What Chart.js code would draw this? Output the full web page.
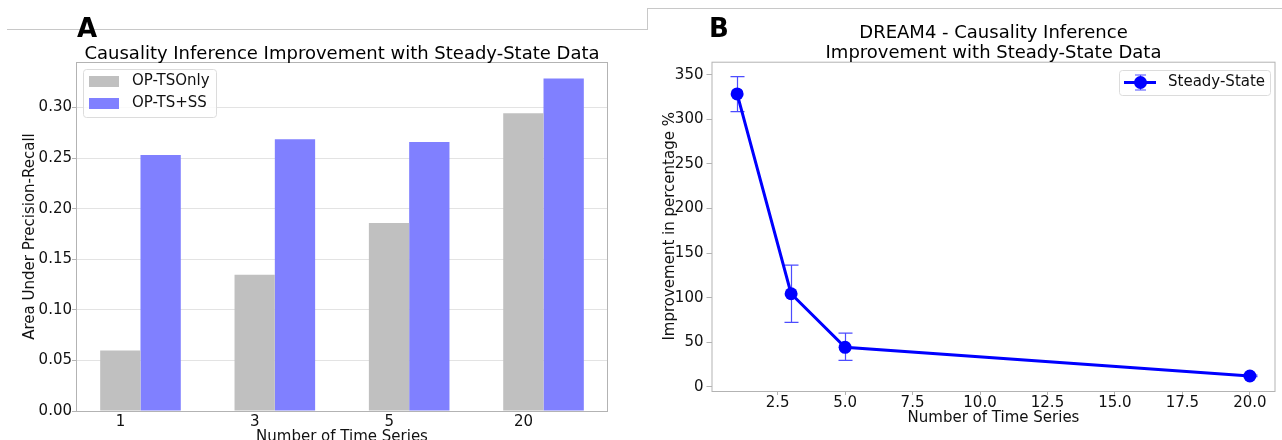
<!DOCTYPE html>
<html>
<head>
<meta charset="utf-8">
<script src="https://cdn.jsdelivr.net/npm/chart.js@4/dist/chart.umd.min.js"></script>
<style>
  html, body { margin: 0; padding: 0; background: #fff; overflow: hidden; }
  #wrap { position: relative; width: 1282px; height: 440px; overflow: hidden; }
  canvas { position: absolute; top: 0; }
  #chartA { left: 0; }
  #chartB { left: 648px; }
  .sep { position: absolute; background: #c8c8c8; }
  .tag { position: absolute; font-family: "DejaVu Sans"; font-weight: bold; font-size: 26px; line-height: 26px; color: #000; }
</style>
</head>
<body>
<div id="wrap">
  <div class="sep" style="left:7px;top:29px;width:641px;height:1px"></div>
  <div class="sep" style="left:647px;top:8px;width:1px;height:22px"></div>
  <div class="sep" style="left:647px;top:8px;width:635px;height:1px"></div>
  <canvas id="chartA" width="648" height="449"></canvas>
  <canvas id="chartB" width="634" height="440"></canvas>
  <div class="tag" style="left:77px;top:15px">A</div>
  <div class="tag" style="left:709px;top:15px">B</div>
</div>
<script>
  // Panel A: AUPR bars
  const categories = ['1', '3', '5', '20'];
  const tsOnly = [0.0598, 0.1347, 0.1859, 0.2943];
  const tsPlusSS = [0.253, 0.2687, 0.2658, 0.3288];
  const titleA = 'Causality Inference Improvement with Steady-State Data';

  // Panel B: improvement %
  const nSeries = [1, 3, 5, 20];
  const improvement = [328.4, 104.5, 44.4, 12.3];
  const errLow = [308.6, 72.4, 29.9, 11.5];
  const errHigh = [347.8, 136.6, 60.4, 13.2];
  const titleB = ['DREAM4 - Causality Inference', 'Improvement with Steady-State Data'];

  const FONT = '"DejaVu Sans"';
  const TXT = '#111';
  const FRAME = '#b3b3b3';

  function drawFrame(chart) {
    const { ctx, chartArea: a } = chart;
    ctx.save();
    ctx.strokeStyle = FRAME;
    ctx.lineWidth = 1;
    ctx.strokeRect(a.left + 0.5, a.top + 0.5, a.right - a.left - 1, a.bottom - a.top);
    ctx.restore();
  }

  function legendBox(ctx, x, y, w, h) {
    ctx.save();
    ctx.fillStyle = 'rgba(255,255,255,0.8)';
    ctx.strokeStyle = '#dcdcdc';
    ctx.lineWidth = 1;
    ctx.beginPath();
    ctx.roundRect(x + 0.5, y + 0.5, w, h, 3);
    ctx.fill();
    ctx.stroke();
    ctx.restore();
  }

  const panelA = {
    id: 'panelA',
    afterDraw(chart) {
      const { ctx, chartArea: a } = chart;
      drawFrame(chart);
      ctx.save();
      ctx.fillStyle = '#000';
      ctx.font = '18px ' + FONT;
      ctx.textAlign = 'center';
      ctx.textBaseline = 'middle';
      ctx.fillText(titleA, (a.left + a.right) / 2, 54);
      // legend
      legendBox(ctx, 83, 69, 133, 48);
      ctx.font = '15px ' + FONT;
      ctx.textAlign = 'left';
      chart.data.datasets.forEach((ds, i) => {
        const cy = 81.5 + i * 22;
        ctx.fillStyle = ds.backgroundColor;
        ctx.fillRect(89, cy - 5.5, 30, 11);
        ctx.fillStyle = TXT;
        ctx.fillText(ds.label, 132, cy);
      });
      ctx.restore();
    }
  };

  new Chart(document.getElementById('chartA'), {
    type: 'bar',
    data: {
      datasets: [
        { label: 'OP-TSOnly', data: tsOnly.map((v, i) => ({ x: i, y: v })), backgroundColor: '#c0c0c0', categoryPercentage: 0.6, barPercentage: 1.0 },
        { label: 'OP-TS+SS', data: tsPlusSS.map((v, i) => ({ x: i, y: v })), backgroundColor: '#8080ff', categoryPercentage: 0.6, barPercentage: 1.0 }
      ]
    },
    options: {
      responsive: false,
      devicePixelRatio: 1,
      animation: false,
      layout: { padding: { left: 0, right: 40, top: 62, bottom: 0 } },
      plugins: { legend: { display: false }, tooltip: { enabled: false } },
      scales: {
        x: {
          type: 'linear',
          min: -0.48,
          max: 3.48,
          offset: false,
          grid: { display: false, drawTicks: false },
          border: { display: false },
          afterBuildTicks(s) { s.ticks = categories.map((c, i) => ({ value: i })); },
          ticks: { color: TXT, font: { family: FONT, size: 15 }, labelOffset: -20, padding: 2.5, maxRotation: 0, autoSkip: false,
                   callback: v => categories[v] },
          title: { display: true, text: 'Number of Time Series', color: TXT, font: { family: FONT, size: 15 }, padding: { top: 0, bottom: 3 } },
          afterFit(s) { s.height = 38; }
        },
        y: {
          min: 0,
          max: 0.345,
          border: { display: false },
          grid: { color: '#e3e3e3', tickColor: FRAME, tickLength: 4 },
          ticks: { stepSize: 0.05, includeBounds: false, padding: 0, color: TXT, font: { family: FONT, size: 15 }, callback: v => v.toFixed(2) },
          title: { display: true, text: 'Area Under Precision-Recall', color: TXT, font: { family: FONT, size: 15 }, padding: { top: 21.5, bottom: 0 } },
          afterFit(s) { s.width = 76; }
        }
      }
    },
    plugins: [panelA]
  });

  const errorBars = {
    id: 'errorBars',
    beforeDatasetsDraw(chart) {
      const { ctx, scales: { x, y } } = chart;
      ctx.save();
      ctx.strokeStyle = 'rgba(0,0,255,0.7)';
      ctx.lineWidth = 1.2;
      nSeries.forEach((n, i) => {
        const px = Math.round(x.getPixelForValue(n)) + 0.5;
        const lo = y.getPixelForValue(errLow[i]);
        const hi = y.getPixelForValue(errHigh[i]);
        ctx.beginPath();
        ctx.moveTo(px, lo); ctx.lineTo(px, hi);
        ctx.moveTo(px - 7, lo); ctx.lineTo(px + 7, lo);
        ctx.moveTo(px - 7, hi); ctx.lineTo(px + 7, hi);
        ctx.stroke();
      });
      ctx.restore();
    }
  };

  const panelB = {
    id: 'panelB',
    afterDraw(chart) {
      const { ctx, chartArea: a } = chart;
      drawFrame(chart);
      ctx.save();
      ctx.fillStyle = '#000';
      ctx.font = '18px ' + FONT;
      ctx.textAlign = 'center';
      ctx.textBaseline = 'middle';
      const cx = (a.left + a.right) / 2;
      titleB.forEach((t, i) => ctx.fillText(t, cx, 33 + i * 20));
      // legend
      legendBox(ctx, 471, 70, 151, 25);
      const ds = chart.data.datasets[0];
      const ly = 82.5;
      ctx.strokeStyle = ds.borderColor;
      ctx.lineWidth = 3;
      ctx.beginPath(); ctx.moveTo(476, ly); ctx.lineTo(508, ly); ctx.stroke();
      ctx.strokeStyle = 'rgba(0,0,255,0.7)';
      ctx.lineWidth = 1.2;
      ctx.beginPath();
      ctx.moveTo(492.5, ly - 7.5); ctx.lineTo(492.5, ly + 7.5);
      ctx.moveTo(487, ly - 7.5); ctx.lineTo(498, ly - 7.5);
      ctx.moveTo(487, ly + 7.5); ctx.lineTo(498, ly + 7.5);
      ctx.stroke();
      ctx.fillStyle = ds.borderColor;
      ctx.beginPath(); ctx.arc(492.5, ly, 6.5, 0, Math.PI * 2); ctx.fill();
      ctx.fillStyle = TXT;
      ctx.font = '15px ' + FONT;
      ctx.textAlign = 'left';
      ctx.fillText(ds.label, 520, ly);
      ctx.restore();
    }
  };

  new Chart(document.getElementById('chartB'), {
    type: 'line',
    data: {
      datasets: [{
        label: 'Steady-State',
        data: nSeries.map((n, i) => ({ x: n, y: improvement[i] })),
        borderColor: '#0000ff',
        backgroundColor: '#0000ff',
        borderWidth: 3,
        pointRadius: 6.5,
        pointBorderWidth: 0,
        pointBackgroundColor: '#0000ff',
        tension: 0
      }]
    },
    options: {
      responsive: false,
      devicePixelRatio: 1,
      animation: false,
      layout: { padding: { left: 0, right: 5.3, top: 61.7, bottom: 0 } },
      plugins: { legend: { display: false }, tooltip: { enabled: false } },
      scales: {
        x: {
          type: 'linear',
          min: 0.05,
          max: 20.95,
          border: { display: false },
          grid: { drawOnChartArea: false, tickColor: FRAME, tickLength: 4 },
          ticks: { stepSize: 2.5, includeBounds: false, padding: -1, maxRotation: 0, color: TXT, font: { family: FONT, size: 15 }, callback: v => v.toFixed(1) },
          title: { display: true, text: 'Number of Time Series', color: TXT, font: { family: FONT, size: 15 }, padding: { top: 0, bottom: 13 } },
          afterFit(s) { s.height = 49; }
        },
        y: {
          min: -4.5,
          max: 364.5,
          border: { display: false },
          grid: { drawOnChartArea: false, tickColor: FRAME, tickLength: 5 },
          ticks: { stepSize: 50, includeBounds: false, padding: 3, color: TXT, font: { family: FONT, size: 15 } },
          title: { display: true, text: 'Improvement in percentage %', color: TXT, font: { family: FONT, size: 15 }, padding: { top: 13.6, bottom: 0 } },
          afterFit(s) { s.width = 63.5; }
        }
      }
    },
    plugins: [errorBars, panelB]
  });
</script>
</body>
</html>
